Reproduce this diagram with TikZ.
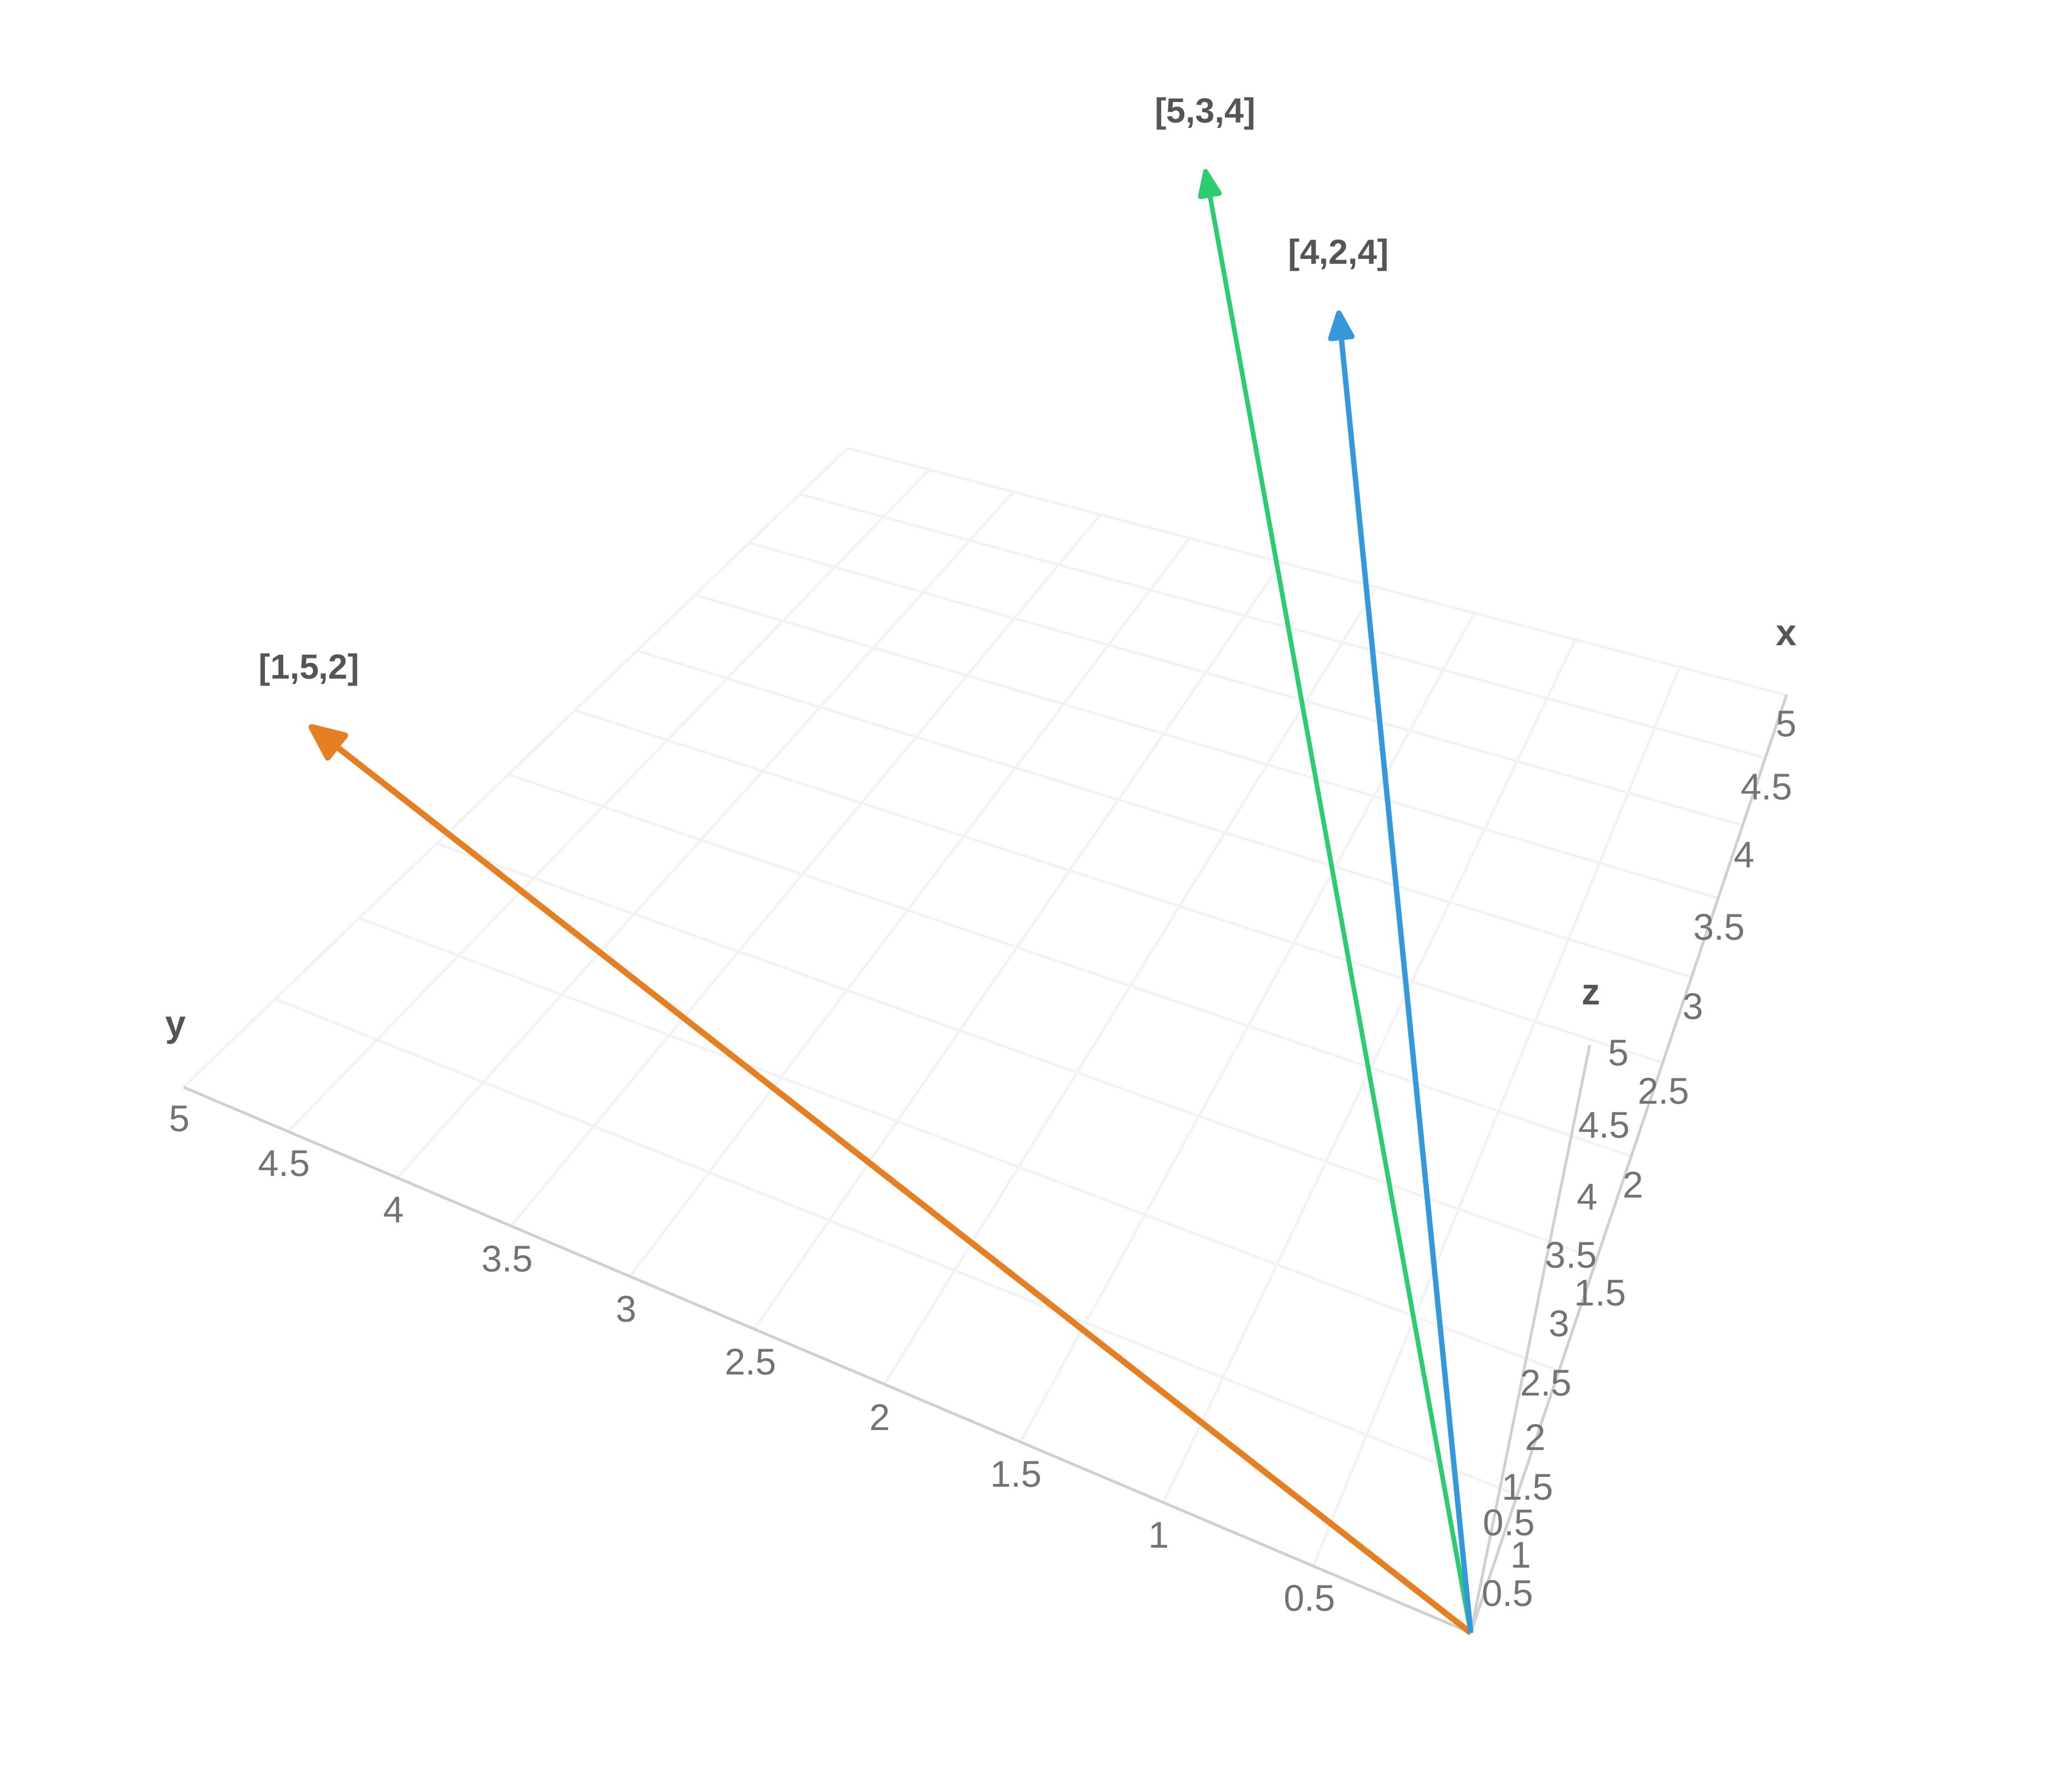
\documentclass[tikz,border=0pt]{standalone}
\usepackage{fontspec}
\setmainfont{Liberation Sans}
\usetikzlibrary{arrows.meta,positioning}

\definecolor{vecorange}{HTML}{E67E22}
\definecolor{vecgreen}{HTML}{2ECC71}
\definecolor{vecblue}{HTML}{3498DB}
\definecolor{ticktext}{HTML}{737373}
\definecolor{labtext}{HTML}{555555}
\definecolor{axiscol}{HTML}{D0D0D0}
\definecolor{gridcol}{HTML}{F3F3F3}

\begin{document}
\begin{tikzpicture}[
    veclabel/.style={font=\fontsize{7.5}{9}\selectfont\bfseries, text=labtext, inner sep=0pt},
    ticklab/.style={font=\fontsize{8}{9.6}\selectfont, text=ticktext, inner sep=0pt},
    axtitle/.style={font=\fontsize{8}{9.6}\selectfont\bfseries, text=labtext, inner sep=0pt},
    axline/.style={draw=axiscol, line width=0.6pt},
    floorgrid/.style={draw=gridcol, line width=0.6pt},
    >=latex
]

\useasboundingbox (-11.13,-1.148) rectangle (4.55,12.36);

% Origin, axis ends and vector tips
\coordinate (o) at (0,0);
\coordinate (xend) at (2.39,7.10);
\coordinate (yend) at (-9.74,4.13);
\coordinate (zend) at (0.90,4.45);
\coordinate (t1) at (-8.79,6.87);
\coordinate (t2) at (-2.01,11.08);
\coordinate (t3) at (-1.00,10.01);

% --- floor grid (z = 0) ---
\draw[floorgrid] (0.352,1.043) -- (-9.049,4.798);
\draw[floorgrid] (0.668,1.982) -- (-8.412,5.410);
\draw[floorgrid] (0.955,2.833) -- (-7.825,5.975);
\draw[floorgrid] (1.216,3.607) -- (-7.282,6.498);
\draw[floorgrid] (1.455,4.314) -- (-6.778,6.984);
\draw[floorgrid] (1.674,4.962) -- (-6.308,7.435);
\draw[floorgrid] (1.875,5.560) -- (-5.871,7.857);
\draw[floorgrid] (2.061,6.111) -- (-5.461,8.251);
\draw[floorgrid] (2.233,6.622) -- (-5.078,8.620);
\draw[floorgrid] (2.394,7.097) -- (-4.717,8.967);

\draw[floorgrid] (-1.192,0.506) -- (1.579,7.311);
\draw[floorgrid] (-2.326,0.987) -- (0.790,7.518);
\draw[floorgrid] (-3.407,1.445) -- (0.026,7.719);
\draw[floorgrid] (-4.437,1.882) -- (-0.714,7.914);
\draw[floorgrid] (-5.421,2.299) -- (-1.432,8.103);
\draw[floorgrid] (-6.362,2.698) -- (-2.129,8.286);
\draw[floorgrid] (-7.261,3.080) -- (-2.804,8.464);
\draw[floorgrid] (-8.123,3.445) -- (-3.461,8.636);
\draw[floorgrid] (-8.949,3.795) -- (-4.098,8.804);
\draw[floorgrid] (-9.741,4.131) -- (-4.717,8.967);

% --- axes ---
\draw[axline] (o) -- (xend);
\draw[axline] (o) -- (yend);
\draw[axline] (o) -- (zend);

\node[axtitle] (xlab) at (2.39,7.55) {x};
\node[axtitle] (ylab) at (-9.80,4.56) {y};
\node[axtitle] (zlab) at (0.91,4.83) {z};

% y ticks
\node[ticklab] (yt05) at (-1.22,0.26) {0.5};
\node[ticklab] (yt1) at (-2.36,0.74) {1};
\node[ticklab] (yt15) at (-3.44,1.20) {1.5};
\node[ticklab] (yt2) at (-4.47,1.63) {2};
\node[ticklab] (yt25) at (-5.45,2.05) {2.5};
\node[ticklab] (yt3) at (-6.39,2.45) {3};
\node[ticklab] (yt35) at (-7.29,2.83) {3.5};
\node[ticklab] (yt4) at (-8.15,3.20) {4};
\node[ticklab] (yt45) at (-8.98,3.55) {4.5};
\node[ticklab] (yt5) at (-9.77,3.89) {5};

% x ticks
\node[ticklab] (xt05) at (0.29,0.835) {0.5};
\node[ticklab] (xt15) at (0.98,2.57) {1.5};
\node[ticklab] (xt2) at (1.23,3.39) {2};
\node[ticklab] (xt25) at (1.46,4.10) {2.5};
\node[ticklab] (xt3) at (1.68,4.74) {3};
\node[ticklab] (xt35) at (1.88,5.34) {3.5};
\node[ticklab] (xt4) at (2.07,5.89) {4};
\node[ticklab] (xt45) at (2.24,6.40) {4.5};
\node[ticklab] (xt5) at (2.39,6.88) {5};

% z ticks
\node[ticklab] (zt05) at (0.28,0.30) {0.5};
\node[ticklab] (zt1) at (0.38,0.59) {1};
\node[ticklab] (zt15) at (0.43,1.10) {1.5};
\node[ticklab] (zt2) at (0.49,1.48) {2};
\node[ticklab] (zt25) at (0.57,1.89) {2.5};
\node[ticklab] (zt3) at (0.67,2.34) {3};
\node[ticklab] (zt35) at (0.76,2.86) {3.5};
\node[ticklab] (zt4) at (0.88,3.30) {4};
\node[ticklab] (zt45) at (1.01,3.84) {4.5};
\node[ticklab] (zt5) at (1.12,4.39) {5};

% --- vectors ---
\draw[vecorange, line width=1.3pt, -{Triangle[length=3.2mm, width=2.7mm, round]}] (o) -- (t1);
\draw[vecgreen, line width=1pt, -{Triangle[length=2.5mm, width=1.9mm, round]}] (o) -- (t2);
\draw[vecblue, line width=1.15pt, -{Triangle[length=2.6mm, width=2.1mm, round]}] (o) -- (t3);

\node[veclabel, above=2.9mm of t1] (l1) {[1,5,2]};
\node[veclabel, above=2.9mm of t2] (l2) {[5,3,4]};
\node[veclabel, above=2.9mm of t3] (l3) {[4,2,4]};

\end{tikzpicture}
\end{document}
